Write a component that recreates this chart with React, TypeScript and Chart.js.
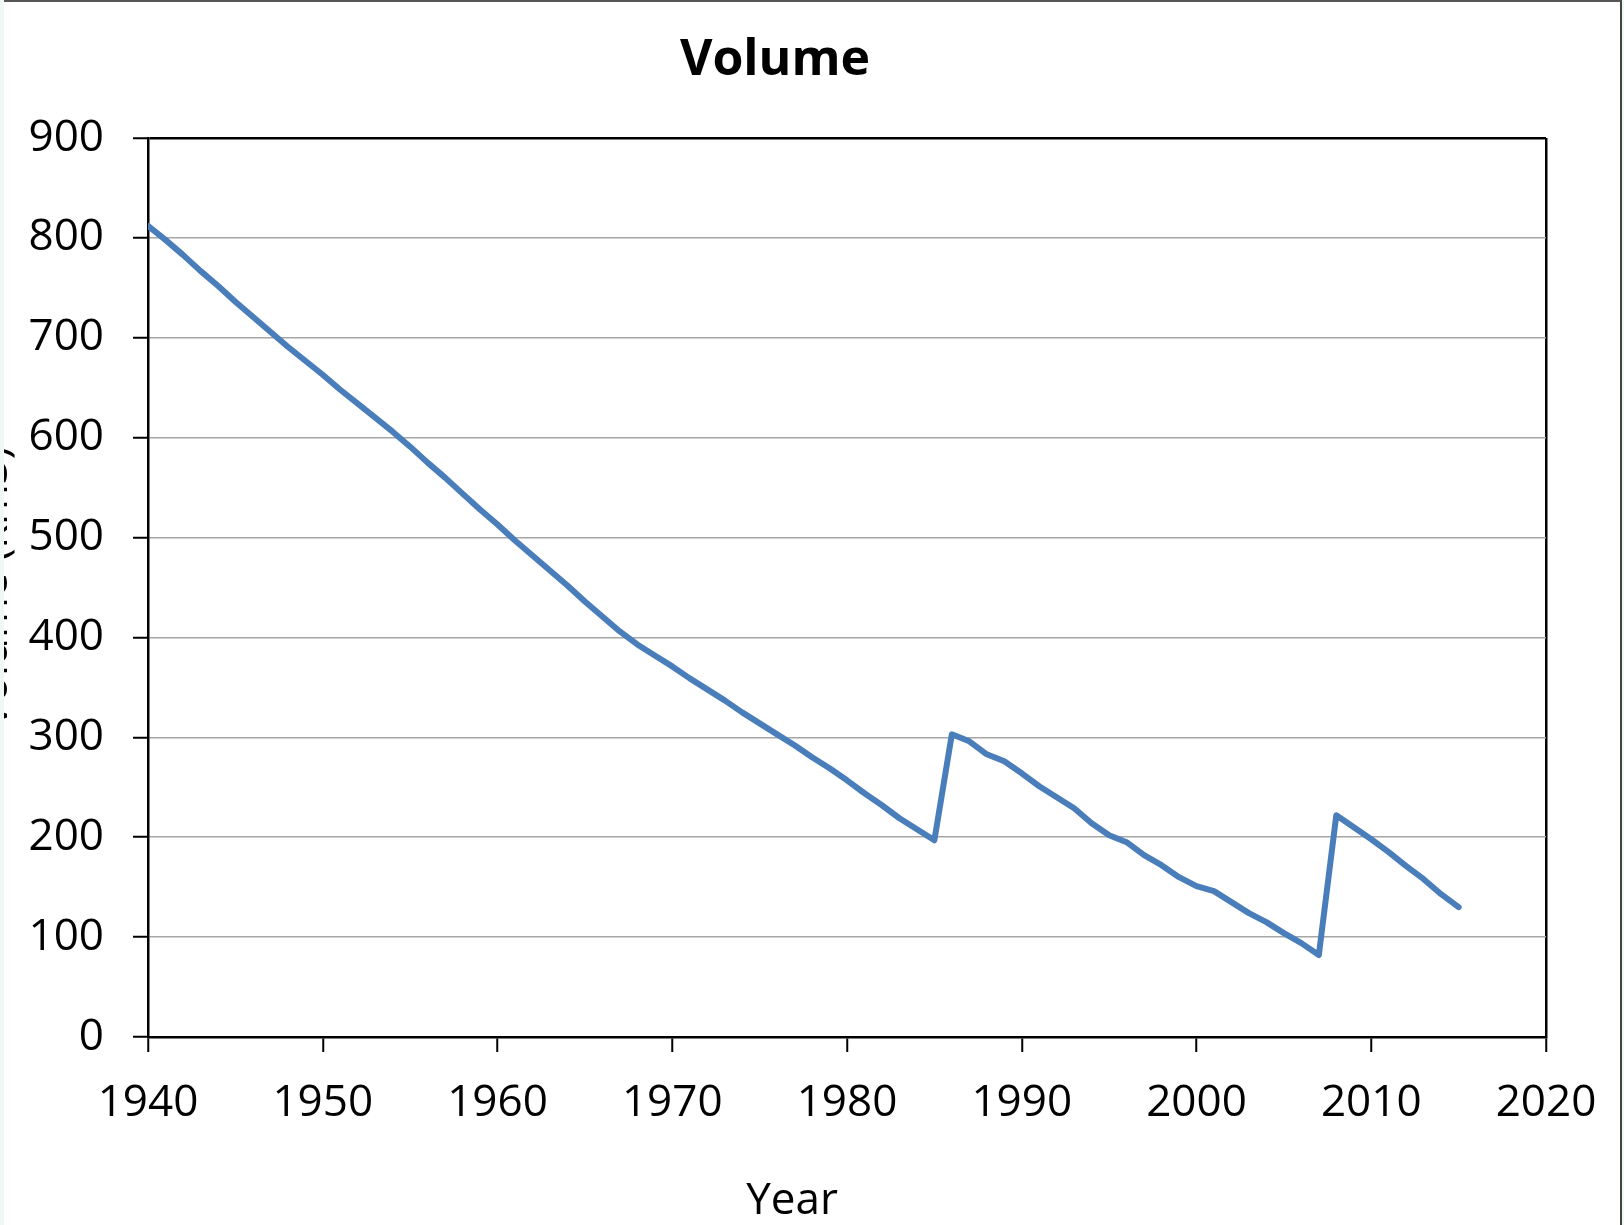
import React, { useEffect, useRef } from "react";
import { Chart, registerables } from "chart.js";

Chart.register(...registerables);

const chartTitle = "Volume";
const xAxisTitle = "Year";
const yAxisTitle = "Volume (km3)";

const years = [
  1940, 1941, 1942, 1943, 1944, 1945, 1946, 1947, 1948, 1949,
  1950, 1951, 1952, 1953, 1954, 1955, 1956, 1957, 1958, 1959,
  1960, 1961, 1962, 1963, 1964, 1965, 1966, 1967, 1968, 1969,
  1970, 1971, 1972, 1973, 1974, 1975, 1976, 1977, 1978, 1979,
  1980, 1981, 1982, 1983, 1984, 1985, 1986, 1987, 1988, 1989,
  1990, 1991, 1992, 1993, 1994, 1995, 1996, 1997, 1998, 1999,
  2000, 2001, 2002, 2003, 2004, 2005, 2006, 2007, 2008, 2009,
  2010, 2011, 2012, 2013, 2014, 2015,
];

const volume = [
  812, 798, 783, 767, 752, 736, 721, 706, 691, 677,
  663, 648, 634, 620, 606, 591, 575, 560, 544, 528,
  513, 497, 482, 467, 452, 436, 421, 406, 393, 382,
  371, 359, 348, 337, 325, 314, 303, 292, 280, 269,
  257, 244, 232, 219, 208, 197, 303, 296, 283, 276,
  264, 251, 240, 229, 214, 202, 195, 182, 172, 160,
  151, 146, 135, 124, 115, 104, 94, 82, 222, 210,
  198, 185, 171, 158, 143, 130,
];

const xMin = 1940;
const xMax = 2020;
const xStep = 10;
const yMin = 0;
const yMax = 900;
const yStep = 100;

const FONT = '"Open Sans", "Noto Sans", sans-serif';

const titlesPlugin = {
  id: "pageTitles",
  afterDraw(chart: any) {
    const { ctx, chartArea } = chart;
    ctx.save();
    ctx.fillStyle = "#000";
    ctx.textAlign = "center";
    ctx.textBaseline = "middle";
    ctx.font = `bold 50px ${FONT}`;
    ctx.fillText(chartTitle, chartArea.left + chartArea.width * 0.4485, 61);
    ctx.font = `44px ${FONT}`;
    ctx.fillText(xAxisTitle, chartArea.left + chartArea.width * 0.4607, chart.height - 29);
    ctx.restore();
  },
};

export default function App() {
  const ref = useRef<HTMLCanvasElement | null>(null);

  useEffect(() => {
    if (!ref.current) return;
    const points = years.map((y, i) => ({ x: y, y: volume[i] }));
    const chart = new Chart(ref.current, {
      type: "line",
      data: {
        datasets: [
          {
            label: chartTitle,
            data: points,
            borderColor: "#4a7ebb",
            backgroundColor: "#4a7ebb",
            borderWidth: 6,
            borderJoinStyle: "round",
            borderCapStyle: "round",
            pointRadius: 0,
            tension: 0,
            fill: false,
          },
        ],
      },
      options: {
        animation: false,
        responsive: false,
        maintainAspectRatio: false,
        events: [],
        layout: { padding: { top: 138, right: 120, bottom: 0, left: 0 } },
        plugins: {
          legend: { display: false },
          tooltip: { enabled: false },
          title: { display: false },
        },
        scales: {
          x: {
            type: "linear",
            min: xMin,
            max: xMax,
            afterFit: (s: any) => {
              s.height = 193;
            },
            ticks: {
              stepSize: xStep,
              color: "#000",
              padding: 25,
              font: { family: FONT, size: 44 },
              callback: (v: any) => String(v),
              maxRotation: 0,
              autoSkip: false,
            },
            grid: {
              color: (c: any) => (c.tick && c.tick.value === xMax ? "#000" : "rgba(0,0,0,0)"),
              lineWidth: 2.5,
              tickColor: "#000",
              tickLength: 15,
              tickWidth: 2,
            },
            border: { display: true, color: "#000", width: 2.5 },
            title: { display: false },
          },
          y: {
            type: "linear",
            min: yMin,
            max: yMax,
            afterFit: (s: any) => {
              s.width = 180;
            },
            ticks: {
              stepSize: yStep,
              color: "#000",
              padding: 29,
              font: { family: FONT, size: 44 },
              callback: (v: any) => String(v),
            },
            grid: {
              color: (c: any) => (c.tick && c.tick.value === yMax ? "#000" : "#a6a6a6"),
              lineWidth: (c: any) => (c.tick && c.tick.value === yMax ? 2.5 : 1.5),
              tickColor: "#000",
              tickLength: 15,
              tickWidth: 2,
            },
            border: { display: true, color: "#000", width: 2.5 },
            title: {
              display: true,
              text: yAxisTitle,
              color: "#000",
              font: { family: FONT, size: 44 },
              padding: { top: 0, bottom: 0 },
            },
          },
        },
      },
      plugins: [titlesPlugin],
    });
    return () => chart.destroy();
  }, []);

  return (
    <div
      style={{
        position: "fixed",
        left: 0,
        top: 0,
        width: 1624,
        height: 1225,
        background: "#eff8f3",
        overflow: "hidden",
      }}
    >
      <div
        style={{
          position: "absolute",
          left: 4,
          top: 0,
          width: 1618,
          height: 1225,
          boxSizing: "border-box",
          background: "#fff",
          borderTop: "2px solid #555",
          borderRight: "2px solid #444",
          overflow: "hidden",
        }}
      >
        <canvas
          ref={ref}
          width={1698}
          height={1230}
          style={{ position: "absolute", left: -36, top: -2, width: 1698, height: 1230 }}
        />
      </div>
    </div>
  );
}
